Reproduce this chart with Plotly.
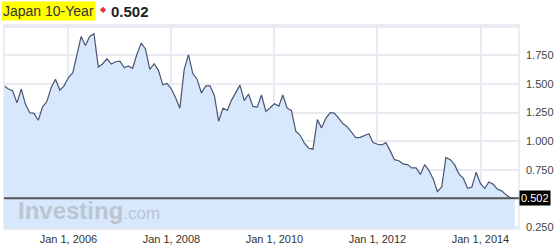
import plotly.graph_objects as go
import pandas as pd

# ---- data ----
yields = [
    1.483, 1.455, 1.440, 1.334, 1.455, 1.326, 1.248, 1.243, 1.182, 1.297,
    1.346, 1.469, 1.541, 1.446, 1.483, 1.555, 1.598, 1.742, 1.914, 1.836,
    1.914, 1.937, 1.647, 1.676, 1.719, 1.673, 1.693, 1.699, 1.641, 1.656,
    1.636, 1.756, 1.856, 1.805, 1.627, 1.676, 1.618, 1.492, 1.504, 1.455,
    1.377, 1.288, 1.627, 1.756, 1.590, 1.541, 1.420, 1.483, 1.483, 1.397,
    1.174, 1.288, 1.268, 1.354, 1.426, 1.489, 1.354, 1.412, 1.303, 1.297,
    1.403, 1.260, 1.291, 1.326,
    1.306, 1.403, 1.288, 1.268, 1.088, 1.053, 0.982, 0.938, 0.930, 1.188,
    1.116, 1.202, 1.248, 1.245, 1.202, 1.154, 1.125, 1.076, 1.030, 1.033,
    1.047, 1.065, 0.987, 0.973, 0.967, 0.987, 0.915, 0.838, 0.829, 0.801,
    0.795, 0.766, 0.766, 0.709, 0.795, 0.743, 0.666, 0.560, 0.600, 0.858,
    0.838, 0.795, 0.715, 0.675, 0.588, 0.600, 0.729, 0.629, 0.588, 0.643,
    0.623, 0.580, 0.566, 0.531, 0.505, 0.502,
]
dates = pd.date_range("2004-10-01", periods=len(yields), freq="MS")

x_tick_vals = ["2006-01-01", "2008-01-01", "2010-01-01", "2012-01-01", "2014-01-01"]
x_tick_text = ["Jan 1, 2006", "Jan 1, 2008", "Jan 1, 2010", "Jan 1, 2012", "Jan 1, 2014"]
y_tick_vals = [0.25, 0.5, 0.75, 1.0, 1.25, 1.5, 1.75, 2.0]
y_tick_text = ["0.250", "", "0.750", "1.000", "1.250", "1.500", "1.750", ""]

title_text = "Japan 10-Year"
last_value = 0.502
last_label = "0.502"

# ---- layout geometry ----
W, H = 558, 249
L, R, T, B = 4, 31, 25, 17
PW, PH = W - L - R, H - T - B


def px(xp):
    return (xp - L) / PW


def py(yp):
    return (H - B - yp) / PH


FONT = "Arial, Liberation Sans, sans-serif"

fig = go.Figure()
fig.add_trace(go.Scatter(
    x=dates, y=yields, mode="lines",
    line=dict(color="#4b5470", width=1.2),
    fill="tozeroy", fillcolor="#d7e8fc",
    hoverinfo="skip",
))

fig.update_layout(
    width=W, height=H,
    margin=dict(l=L, r=R, t=T, b=B, pad=0),
    paper_bgcolor="white", plot_bgcolor="white",
    showlegend=False,
    font=dict(family=FONT, size=11, color="#333333"),
    xaxis=dict(
        type="date", range=["2004-10-01", "2014-10-01"],
        tickvals=x_tick_vals, ticktext=x_tick_text,
        showgrid=True, gridcolor="#e8ebf1", gridwidth=2,
        zeroline=False, showline=False, ticks="",
        tickfont=dict(size=11, color="#333333"),
        ticklabelstandoff=2,
    ),
    yaxis=dict(
        range=[0.233, 2.014], side="right",
        tickvals=y_tick_vals, ticktext=y_tick_text,
        showgrid=True, gridcolor="#e8ebf1", gridwidth=2,
        zeroline=False, showline=False, ticks="",
        tickfont=dict(size=11, color="#444444"),
        ticklabelstandoff=6,
    ),
)

# plot border
fig.add_shape(type="rect", xref="paper", yref="paper", x0=0, x1=1, y0=0, y1=1,
              line=dict(color="#e4e7ee", width=1.5), layer="above")

# current-value line
fig.add_shape(type="line", xref="paper", yref="y", x0=0, x1=1,
              y0=last_value, y1=last_value,
              line=dict(color="#555555", width=2), layer="above")

annotations = [
    # watermark
    dict(text="<b>Investing</b><span style='font-size:17px'>.com</span>",
         xref="paper", yref="paper", x=px(16), y=py(213),
         xanchor="left", yanchor="middle", showarrow=False,
         font=dict(family=FONT, size=24, color="#bcc4cf")),
    # value box at right
    dict(text=last_label, xref="paper", yref="y", x=1.0, y=last_value,
         xanchor="left", yanchor="middle", showarrow=False,
         bgcolor="#000000", borderpad=1,
         font=dict(family=FONT, size=11, color="white")),
    # title
    dict(text=title_text, xref="paper", yref="paper", x=px(1), y=py(11),
         xanchor="left", yanchor="middle", showarrow=False,
         bgcolor="#ffff00", borderpad=1,
         font=dict(family=FONT, size=14, color="#333333")),
    dict(text="◆", xref="paper", yref="paper", x=px(105.5), y=py(9),
         xanchor="center", yanchor="middle", showarrow=False,
         font=dict(family=FONT, size=8, color="#e8343a")),
    dict(text="<b>" + last_label + "</b>", xref="paper", yref="paper", x=px(111), y=py(11),
         xanchor="left", yanchor="middle", showarrow=False,
         font=dict(family=FONT, size=15, color="#222222")),
]
fig.update_layout(annotations=annotations)

fig.write_html("out.html")
